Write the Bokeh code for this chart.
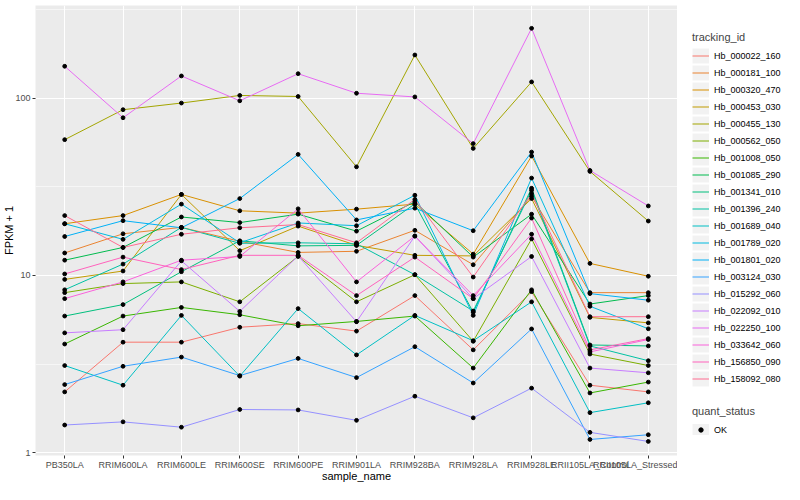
from bokeh.plotting import figure
from bokeh.layouts import row
from bokeh.models import (FactorRange, Range1d, FixedTicker, Legend, LegendItem,
                          NumeralTickFormatter, ColumnDataSource)
from bokeh.embed import file_html
from bokeh.resources import INLINE

samples = ["PB350LA", "RRIM600LA", "RRIM600LE", "RRIM600SE", "RRIM600PE", "RRIM901LA",
           "RRIM928BA", "RRIM928LA", "RRIM928LE", "RRII105LA_Control", "RRII105LA_Stressed"]

tracking_ids = ["Hb_000022_160", "Hb_000181_100", "Hb_000320_470", "Hb_000453_030",
                "Hb_000455_130", "Hb_000562_050", "Hb_001008_050", "Hb_001085_290",
                "Hb_001341_010", "Hb_001396_240", "Hb_001689_040", "Hb_001789_020",
                "Hb_001801_020", "Hb_003124_030", "Hb_015292_060", "Hb_022092_010",
                "Hb_022250_100", "Hb_033642_060", "Hb_156850_090", "Hb_158092_080"]

colors = ["#F8766D", "#EA8331", "#D89000", "#C09B00", "#A3A500", "#7CAE00", "#39B600",
          "#00BB4E", "#00BF7D", "#00C1A3", "#00BFC4", "#00BAE0", "#00B0F6", "#35A2FF",
          "#9590FF", "#C77CFF", "#E76BF3", "#FA62DB", "#FF62BC", "#FF6C91"]

# FPKM + 1 per sample (order of `samples`)
hb_000022_160 = [2.2, 4.2, 4.2, 5.1, 5.35, 4.85, 7.7, 3.8, 8.1, 2.4, 2.2]
hb_000181_100 = [13.4, 17.2, 18.7, 15.6, 13.5, 13.7, 18.0, 11.5, 28.0, 8.0, 8.0]
hb_000320_470 = [19.6, 21.8, 28.7, 23.2, 22.5, 23.7, 25.3, 13.2, 47.3, 11.7, 9.9]
hb_000453_030 = [9.5, 10.6, 28.7, 13.8, 19.0, 14.8, 13.0, 12.9, 27.2, 5.8, 5.4]
hb_000455_130 = [58.5, 86.4, 94.2, 104, 102.6, 41.1, 176, 52.2, 124, 38.7, 20.3]
hb_000562_050 = [8.0, 9.0, 9.2, 7.1, 12.8, 7.1, 10.1, 4.25, 16.1, 3.6, 3.1]
hb_001008_050 = [4.1, 5.9, 6.6, 6.0, 5.2, 5.5, 5.9, 3.0, 8.3, 2.17, 2.5]
hb_001085_290 = [12.2, 14.4, 21.4, 19.9, 22.2, 17.8, 26.1, 12.7, 22.2, 6.9, 7.7]
hb_001341_010 = [5.9, 6.85, 10.5, 15.7, 14.7, 14.8, 25.4, 6.2, 31.1, 4.05, 4.0]
hb_001396_240 = [8.3, 11.6, 18.7, 15.2, 15.3, 15.1, 10.1, 6.3, 30.3, 4.0, 3.3]
hb_001689_040 = [3.1, 2.4, 5.95, 2.7, 6.5, 3.56, 5.95, 4.28, 7.1, 1.68, 1.91]
hb_001789_020 = [19.6, 16.0, 25.3, 15.3, 19.8, 19.1, 28.4, 5.95, 35.5, 6.7, 5.0]
hb_001801_020 = [16.6, 20.4, 18.6, 27.2, 48.3, 20.6, 24.0, 17.9, 49.8, 7.9, 7.25]
hb_003124_030 = [2.42, 3.07, 3.46, 2.72, 3.4, 2.65, 3.96, 2.47, 4.99, 1.185, 1.26]
hb_015292_060 = [1.43, 1.49, 1.39, 1.75, 1.74, 1.52, 2.08, 1.57, 2.31, 1.30, 1.155]
hb_022092_010 = [4.74, 4.94, 12.1, 6.27, 12.9, 5.48, 16.7, 7.4, 12.8, 3.0, 2.82]
hb_022250_100 = [152, 77.8, 134, 97, 138, 107, 102, 55.6, 249, 39.2, 24.7]
hb_033642_060 = [7.4, 9.2, 12.2, 12.8, 23.8, 9.2, 16.7, 7.7, 17.1, 3.7, 4.35]
hb_156850_090 = [10.2, 12.7, 10.8, 13.0, 13.0, 7.7, 12.7, 7.4, 21.1, 3.8, 4.4]
hb_158092_080 = [21.8, 14.4, 17.1, 18.6, 19.4, 15.3, 26.9, 9.8, 29.0, 5.85, 5.85]

series = [hb_000022_160, hb_000181_100, hb_000320_470, hb_000453_030, hb_000455_130,
          hb_000562_050, hb_001008_050, hb_001085_290, hb_001341_010, hb_001396_240,
          hb_001689_040, hb_001789_020, hb_001801_020, hb_003124_030, hb_015292_060,
          hb_022092_010, hb_022250_100, hb_033642_060, hb_156850_090, hb_158092_080]

quant_status = ["OK"]

y_major = [1, 10, 100]
y_minor = [0.3162, 3.162, 31.62, 316.2]

FONT = "Liberation Sans"
H = 484

p = figure(width=677, height=H,
           x_range=FactorRange(factors=samples, range_padding=0),
           y_range=Range1d(0.962, 335), y_axis_type="log",
           output_backend="svg", toolbar_location=None,
           min_border_left=30, min_border_right=0, min_border_top=5, min_border_bottom=20)

p.background_fill_color = "#EBEBEB"
p.border_fill_color = "white"
p.outline_line_color = None

ticker = FixedTicker(ticks=y_major, minor_ticks=y_minor)
p.yaxis.ticker = ticker
p.ygrid.ticker = ticker
p.yaxis.formatter = NumeralTickFormatter(format="0")
p.ygrid.grid_line_color = "white"
p.ygrid.grid_line_width = 1.1
p.ygrid.minor_grid_line_color = "white"
p.ygrid.minor_grid_line_width = 0.55
p.xgrid.grid_line_color = "white"
p.xgrid.grid_line_width = 1.1

for ax in (p.xaxis, p.yaxis):
    ax.axis_line_color = None
    ax.major_tick_line_color = "#333333"
    ax.major_tick_in = 0
    ax.major_tick_out = 3
    ax.minor_tick_line_color = None
    ax.major_label_text_font = FONT
    ax.major_label_text_font_size = "9px"
    ax.major_label_text_color = "#4D4D4D"
    ax.major_label_standoff = 1
    ax.axis_label_text_font = FONT
    ax.axis_label_text_font_size = "11px"
    ax.axis_label_text_font_style = "normal"
    ax.axis_label_text_color = "black"
    ax.axis_label_standoff = -3
p.xaxis.axis_label = "sample_name"
p.yaxis.axis_label = "FPKM + 1"

# lines then points (ggplot layer order)
sources = []
for vals, c in zip(series, colors):
    src = ColumnDataSource(dict(x=samples, y=vals))
    sources.append(src)
    p.line("x", "y", source=src, line_color=c, line_width=1)
for src in sources:
    p.scatter("x", "y", source=src, size=3.8, color="black")

# legend panel (its own small figure; dummy glyphs sit outside its visible range)
q = figure(width=784 - 677, height=H, x_range=Range1d(0, 1), y_range=Range1d(0, 1),
           output_backend="svg", toolbar_location=None,
           x_axis_location=None, y_axis_location=None, min_border=0)
q.outline_line_color = None
q.grid.visible = False
q.background_fill_color = "white"

off = dict(x=[5, 6], y=[5, 6])
key_bg = q.line(x=off["x"], y=off["y"], line_color="#F2F2F2", line_width=15, line_cap="butt")
items = []
for tid, c in zip(tracking_ids, colors):
    r = q.line(x=off["x"], y=off["y"], line_color=c, line_width=1)
    items.append(LegendItem(label=tid, renderers=[key_bg, r]))

legend_style = dict(glyph_width=17, spacing=0, padding=0, margin=0,
                    label_standoff=5, label_height=17,
                    label_text_font=FONT, label_text_font_size="9px", label_text_color="black",
                    title_text_font=FONT, title_text_font_size="11px",
                    title_text_font_style="normal", title_standoff=4,
                    background_fill_alpha=0, border_line_color=None)

legend1 = Legend(items=items, title="tracking_id", location=(15, 68),
                 glyph_height=17, **legend_style)
q.add_layout(legend1)

dot = q.scatter(x=off["x"], y=off["y"], size=3.8, color="black")
ok_items = [LegendItem(label=s, renderers=[key_bg, dot]) for s in quant_status]
legend2 = Legend(items=ok_items, title="quant_status", location=(15, 17),
                 glyph_height=11, **legend_style)
q.add_layout(legend2)

layout = row(p, q)
open("out.html", "w").write(file_html(layout, INLINE))
